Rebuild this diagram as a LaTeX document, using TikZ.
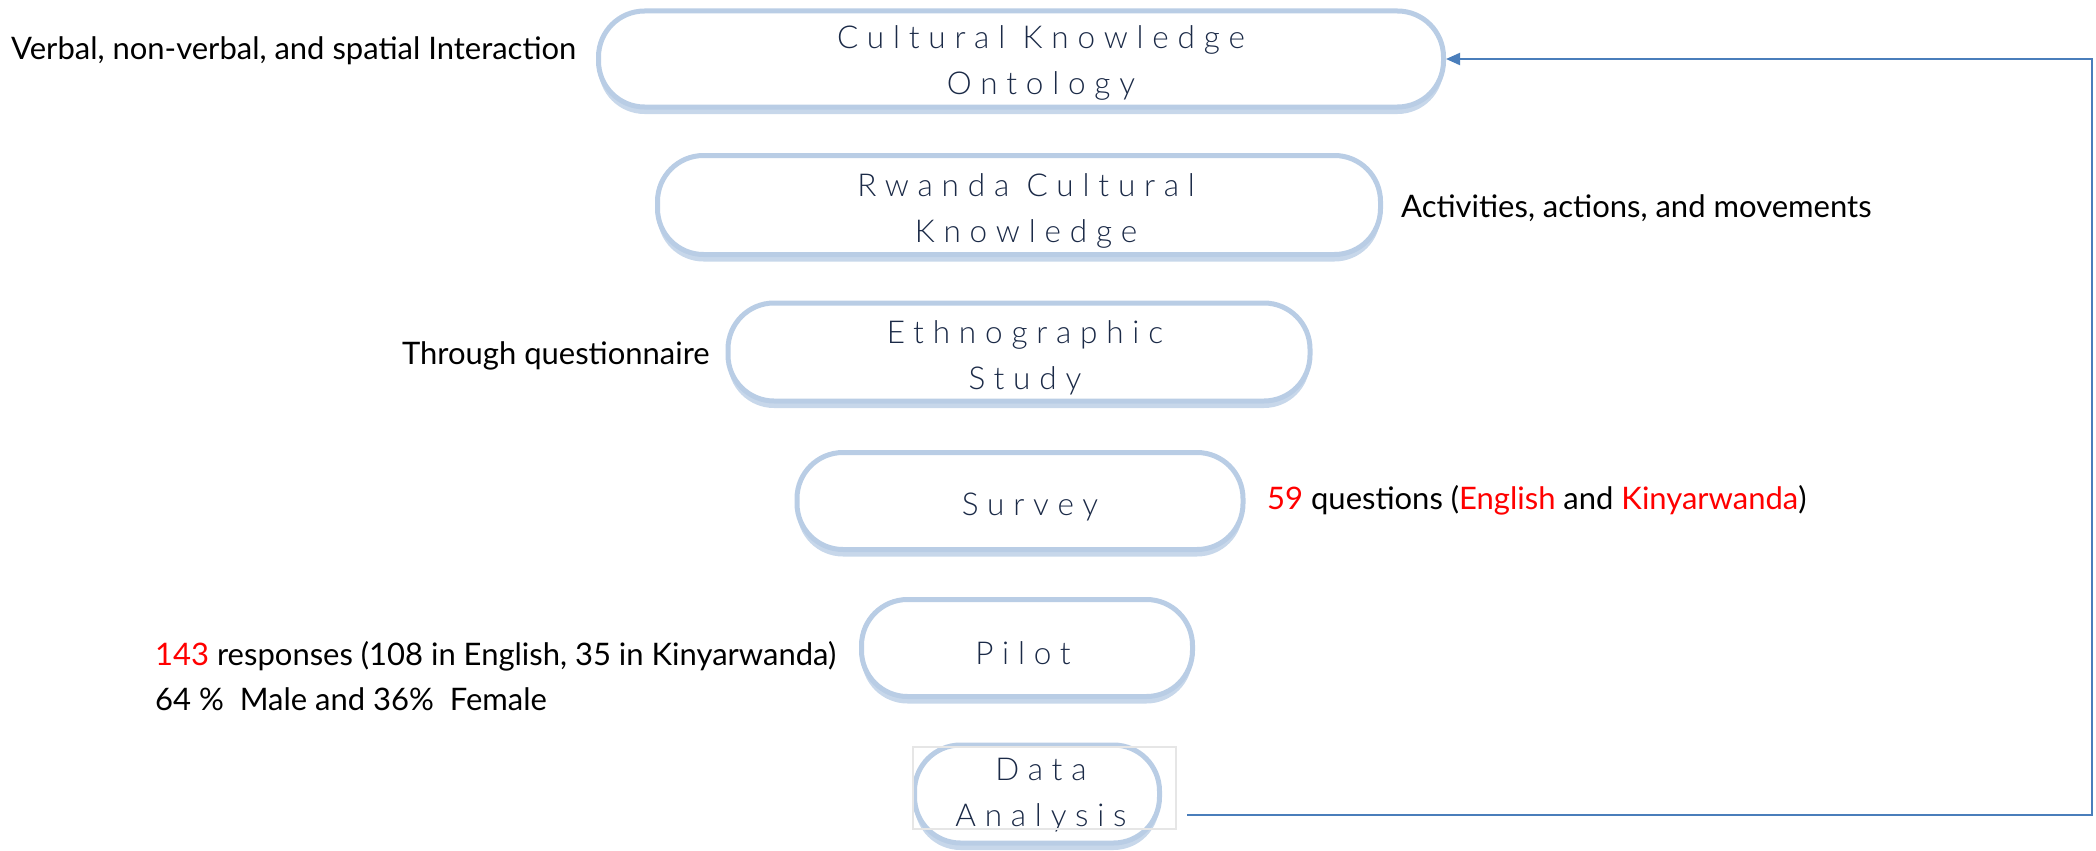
\documentclass[tikz,border=0pt]{standalone}
\usepackage{fontspec}
\setmainfont{Lato}
\newfontfamily\boxfont[LetterSpace=28]{Lato Light}
\usetikzlibrary{shadows,arrows.meta}
\definecolor{pillblue}{HTML}{B9CDE5}
\definecolor{navy}{HTML}{1B2A47}
\definecolor{flowblue}{HTML}{4A7EBB}
\definecolor{accent}{HTML}{FF0000}
\definecolor{faintgray}{HTML}{E6E6E6}
\tikzset{
 pill/.style={draw=pillblue, line width=5pt, fill=white, rounded corners=46pt,
   inner sep=0pt,
   drop shadow={shadow xshift=0pt, shadow yshift=-7pt, fill=pillblue, opacity=0.8}},
 boxtext/.style={inner sep=0pt, align=center, text=navy, font=\boxfont\fontsize{31.5}{45.5}\selectfont},
 lbl/.style={anchor=west, inner sep=0pt, font=\fontsize{31}{47}\selectfont, text=black},
 flow/.style={draw=flowblue, line width=2pt, -{Triangle[length=14pt,width=12pt]}},
 thinbox/.style={draw=faintgray, line width=1.5pt}
}
\begin{document}
\begin{tikzpicture}[x=1pt,y=-1pt]
\useasboundingbox (0,0) rectangle (2096,851);
\node[pill, minimum width=845pt, minimum height=96pt] (ont) at (1021,59) {};
\node[pill, minimum width=723pt, minimum height=99pt] (rck) at (1019,205) {};
\node[pill, minimum width=582pt, minimum height=98pt] (eth) at (1019,352) {};
\node[pill, minimum width=446pt, minimum height=97pt] (sur) at (1020,501) {};
\node[pill, minimum width=331pt, minimum height=97pt] (pil) at (1027,648) {};
\node[pill, minimum width=245pt, minimum height=98pt] (dat) at (1037,794) {};
\node[boxtext] (tont) at (1041,63) {Cultural Knowledge\\Ontology};
\node[boxtext] (trck) at (1026,211) {Rwanda Cultural\\Knowledge};
\node[boxtext] (teth) at (1025,358) {Ethnographic\\Study};
\node[boxtext] (tsur) at (1030,507) {Survey};
\node[boxtext] (tpil) at (1023,653) {Pilot};
\node[boxtext] (tdat) at (1041,795) {Data\\Analysis};
\node[thinbox, minimum width=263pt, minimum height=82pt, inner sep=0pt] (dabox) at (1044.5,788) {};

\node[lbl] (l1) at (11,51) {Verbal, non-verbal, and spatial Interaction};
\node[lbl] (l2) at (1401,208) {Activities, actions, and movements};
\node[lbl, anchor=east] (l3) at (710,356) {Through questionnaire};
\node[lbl] (l4) at (1267,500) {\textcolor{accent}{59} questions (\textcolor{accent}{English} and \textcolor{accent}{Kinyarwanda})};
\node[lbl] (l5) at (155,656) {\textcolor{accent}{143} responses (108 in English, 35 in Kinyarwanda)};
\node[lbl] (l6) at (155,699) {64 \%\ \ Male and 36\%\ \ Female};

\coordinate (s) at (1187,815);
\coordinate (c1) at (2092,815);
\draw[flow] (s) -- (c1) |- (ont.east);
\end{tikzpicture}
\end{document}
